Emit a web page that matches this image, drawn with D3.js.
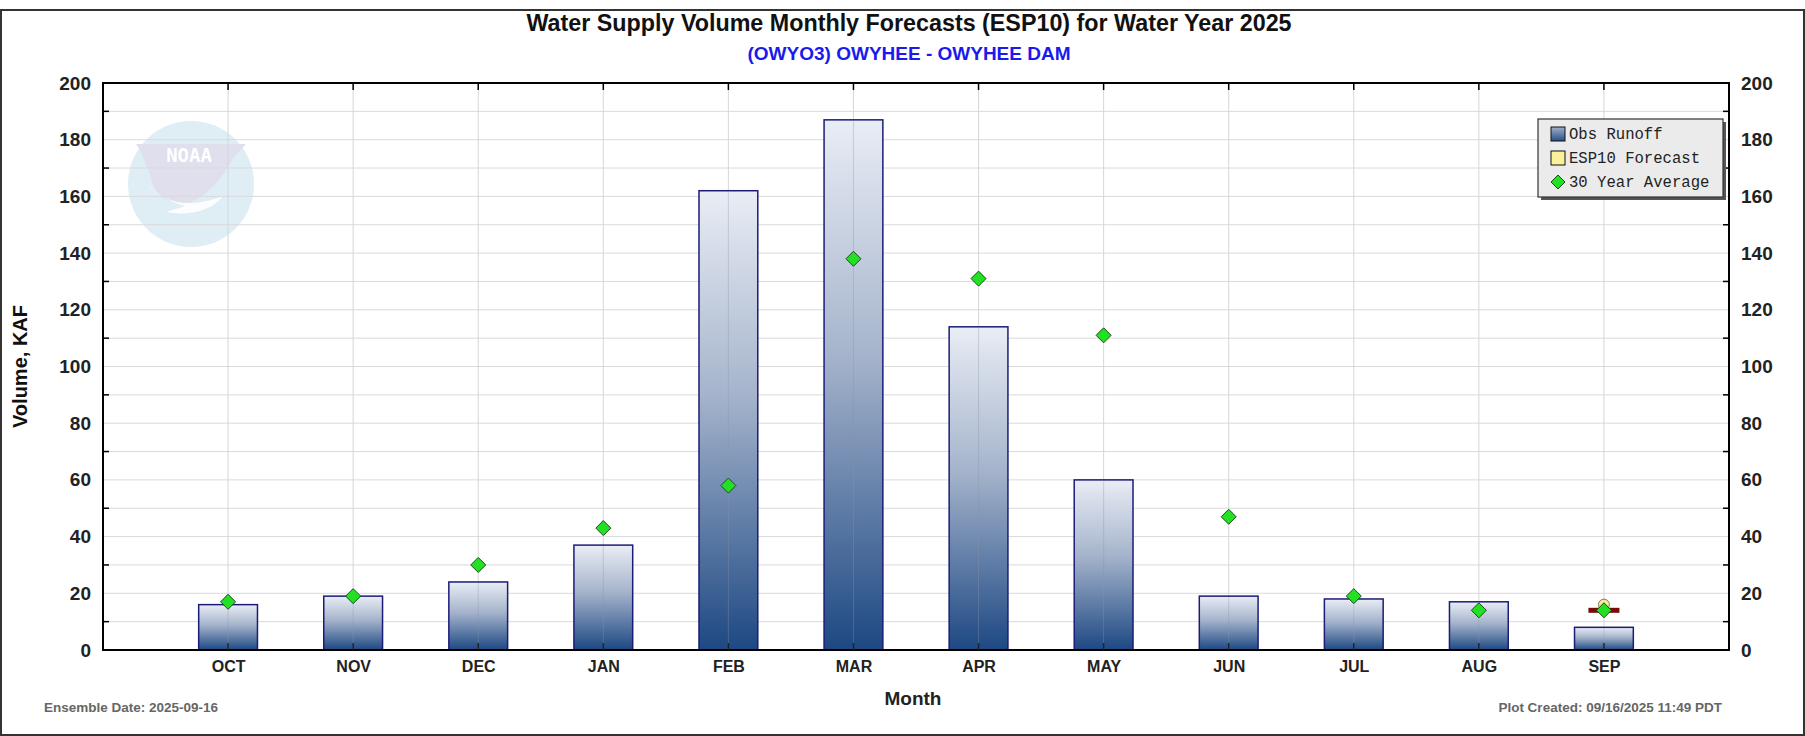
<!DOCTYPE html>
<html>
<head>
<meta charset="utf-8">
<script src="https://cdn.jsdelivr.net/npm/d3@7/dist/d3.min.js"></script>
<style>
  html, body { margin: 0; padding: 0; background: #fff; }
  svg { display: block; }
</style>
</head>
<body>
<script>
// Monthly volumes for the water year (KAF)
const months = ["OCT","NOV","DEC","JAN","FEB","MAR","APR","MAY","JUN","JUL","AUG","SEP"];
const obsRunoff = [16, 19, 24, 37, 162, 187, 114, 60, 19, 18, 17, 8];
const avg30yr = [17, 19, 30, 43, 58, 138, 131, 111, 47, 19, 14, 14];
// ESP10 forecast for the current month
const forecastMonth = ["SEP"];
const forecastValue = [16];
const forecastMedian = [14];
const yTicks = [0, 20, 40, 60, 80, 100, 120, 140, 160, 180, 200];
const yMinorTicks = [10, 30, 50, 70, 90, 110, 130, 150, 170, 190];

const W = 1805, H = 736;
const plot = { left: 103, right: 1729, top: 83, bottom: 650 };

const svg = d3.select("body").append("svg").attr("width", W).attr("height", H);
const defs = svg.append("defs");

const grad = defs.append("linearGradient").attr("id", "barFill")
  .attr("x1", 0).attr("y1", 0).attr("x2", 0).attr("y2", 1);
grad.append("stop").attr("offset", "0%").attr("stop-color", "#e9edf5");
grad.append("stop").attr("offset", "45%").attr("stop-color", "#a4b3cb");
grad.append("stop").attr("offset", "100%").attr("stop-color", "#1d4883");

const legGrad = defs.append("linearGradient").attr("id", "legFill")
  .attr("x1", 0).attr("y1", 0).attr("x2", 0).attr("y2", 1);
legGrad.append("stop").attr("offset", "0%").attr("stop-color", "#9fb0c9");
legGrad.append("stop").attr("offset", "100%").attr("stop-color", "#2a4f86");

// Outer frame
svg.append("rect").attr("x", 1).attr("y", 10).attr("width", W - 2).attr("height", H - 11)
  .attr("fill", "#fff").attr("stroke", "#333").attr("stroke-width", 2);

// Scales
const x = d3.scaleLinear().domain([0, months.length + 1]).range([plot.left, plot.right]);
const xPos = m => x(months.indexOf(m) + 1);
const y = d3.scaleLinear().domain([0, 200]).range([plot.bottom, plot.top]);
const slot = x(1) - x(0);
const barW = slot * 0.47;

// NOAA emblem watermark
const logo = svg.append("g").attr("transform", "translate(191,184)").attr("opacity", 0.9);
logo.append("circle").attr("r", 63).attr("fill", "#dcecf4");
logo.append("path")
  .attr("d", "M-55,-40 L55,-40 L42,-26 C30,-2 12,14 -2,19 C-12,22 -26,18 -34,8 C-40,0 -42,-20 -55,-40 Z")
  .attr("fill", "#dcdcec");
logo.append("path")
  .attr("d", "M-45,-2 C-30,20 0,25 32,12 C20,28 -5,32 -25,28 L-6,22 C-22,18 -36,10 -45,-2 Z")
  .attr("fill", "#ffffff").attr("opacity", 0.9);
logo.append("text").attr("x", -2).attr("y", -22).attr("text-anchor", "middle")
  .attr("font-family", "DejaVu Sans Mono, monospace").attr("font-weight", "bold")
  .attr("font-size", 19).attr("fill", "#ffffff").text("NOAA");

// Gridlines
const grid = svg.append("g");
grid.selectAll("line.hmin").data(yMinorTicks.concat(yTicks.slice(1, -1))).join("line")
  .attr("x1", plot.left).attr("x2", plot.right)
  .attr("y1", d => y(d)).attr("y2", d => y(d))
  .attr("stroke", "#dadada").attr("stroke-width", 1);
grid.selectAll("line.v").data(months).join("line")
  .attr("x1", d => xPos(d)).attr("x2", d => xPos(d))
  .attr("y1", plot.top).attr("y2", plot.bottom)
  .attr("stroke", "#d6d6dc").attr("stroke-width", 1);

// Observed runoff bars
svg.append("g").selectAll("rect").data(months).join("rect")
  .attr("x", d => xPos(d) - barW / 2)
  .attr("y", (d, i) => y(obsRunoff[i]))
  .attr("width", barW)
  .attr("height", (d, i) => y(0) - y(obsRunoff[i]))
  .attr("fill", "url(#barFill)")
  .attr("stroke", "#1c1c78").attr("stroke-width", 1.5);

// Vertical gridlines show faintly through bars
svg.append("g").selectAll("line").data(months).join("line")
  .attr("x1", d => xPos(d)).attr("x2", d => xPos(d))
  .attr("y1", (d, i) => y(obsRunoff[i]) + 1).attr("y2", plot.bottom)
  .attr("stroke", "#8b94a8").attr("stroke-opacity", 0.35).attr("stroke-width", 1);

// ESP10 forecast marker
const fc = svg.append("g");
forecastMonth.forEach((m, i) => {
  fc.append("circle").attr("cx", xPos(m)).attr("cy", y(forecastValue[i])).attr("r", 5.5)
    .attr("fill", "#f6e7a0").attr("stroke", "#8a7a50").attr("stroke-width", 1);
  fc.append("rect").attr("x", xPos(m) - 15.5).attr("y", y(forecastMedian[i]) - 2.5)
    .attr("width", 31).attr("height", 5).attr("fill", "#7a0a0a");
});

// 30 year average diamonds
const dS = 7.5;
svg.append("g").selectAll("path").data(months).join("path")
  .attr("d", (d, i) => {
    const cx = xPos(d), cy = y(avg30yr[i]);
    return `M${cx},${cy - dS} L${cx + dS},${cy} L${cx},${cy + dS} L${cx - dS},${cy} Z`;
  })
  .attr("fill", "#22e022").attr("stroke", "#1e4a1e").attr("stroke-width", 1);

// Axes
const font = "Liberation Sans, Arial, sans-serif";
const axisG = svg.append("g");
axisG.append("rect").attr("x", plot.left).attr("y", plot.top)
  .attr("width", plot.right - plot.left).attr("height", plot.bottom - plot.top)
  .attr("fill", "none").attr("stroke", "#000").attr("stroke-width", 2);

const leftAxis = d3.axisLeft(y).tickValues(yTicks).tickSize(0).tickPadding(12);
const la = axisG.append("g").attr("transform", `translate(${plot.left},0)`).call(leftAxis);
const rightAxis = d3.axisRight(y).tickValues(yTicks).tickSize(0).tickPadding(12);
const ra = axisG.append("g").attr("transform", `translate(${plot.right},0)`).call(rightAxis);
[la, ra].forEach(g => {
  g.select(".domain").remove();
  g.selectAll("text").attr("font-family", font).attr("font-weight", "bold")
    .attr("font-size", 19).attr("fill", "#222");
});
// inward minor ticks on both sides
axisG.selectAll("line.lt").data(yMinorTicks).join("line")
  .attr("x1", plot.left).attr("x2", plot.left + 6)
  .attr("y1", d => y(d)).attr("y2", d => y(d)).attr("stroke", "#000").attr("stroke-width", 1.5);
axisG.selectAll("line.rt").data(yMinorTicks).join("line").attr("class", "rt")
  .attr("x1", plot.right).attr("x2", plot.right - 6)
  .attr("y1", d => y(d)).attr("y2", d => y(d)).attr("stroke", "#000").attr("stroke-width", 1.5);

const bottomAxis = d3.axisBottom(x).tickValues(d3.range(1, months.length + 1))
  .tickFormat(d => months[d - 1]).tickSize(0).tickPadding(11);
const ba = axisG.append("g").attr("transform", `translate(0,${plot.bottom})`).call(bottomAxis);
ba.select(".domain").remove();
ba.selectAll("text").attr("font-family", font).attr("font-weight", "bold")
  .attr("font-size", 16).attr("fill", "#222");
// inward month ticks at top and bottom
axisG.selectAll("line.tt").data(months).join("line")
  .attr("x1", d => xPos(d)).attr("x2", d => xPos(d))
  .attr("y1", plot.top).attr("y2", plot.top + 7).attr("stroke", "#000").attr("stroke-width", 1.5);
axisG.selectAll("line.bt").data(months).join("line").attr("class", "bt")
  .attr("x1", d => xPos(d)).attr("x2", d => xPos(d))
  .attr("y1", plot.bottom).attr("y2", plot.bottom - 7).attr("stroke", "#222").attr("stroke-width", 1.5);

// Titles
svg.append("text").attr("x", 909).attr("y", 31).attr("text-anchor", "middle")
  .attr("font-family", font).attr("font-weight", "bold").attr("font-size", 23.3).attr("fill", "#111")
  .text("Water Supply Volume Monthly Forecasts (ESP10) for Water Year 2025");
svg.append("text").attr("x", 909).attr("y", 60).attr("text-anchor", "middle")
  .attr("font-family", font).attr("font-weight", "bold").attr("font-size", 19).attr("fill", "#1a1aee")
  .text("(OWYO3) OWYHEE - OWYHEE DAM");

svg.append("text").attr("transform", `translate(27,${(plot.top + plot.bottom) / 2}) rotate(-90)`)
  .attr("text-anchor", "middle").attr("font-family", font).attr("font-weight", "bold")
  .attr("font-size", 20).attr("fill", "#111").text("Volume, KAF");
svg.append("text").attr("x", 913).attr("y", 705).attr("text-anchor", "middle")
  .attr("font-family", font).attr("font-weight", "bold").attr("font-size", 19).attr("fill", "#222")
  .text("Month");

svg.append("text").attr("x", 44).attr("y", 712)
  .attr("font-family", font).attr("font-weight", "bold").attr("font-size", 13.5).attr("fill", "#666")
  .text("Ensemble Date: 2025-09-16");
svg.append("text").attr("x", 1722).attr("y", 712).attr("text-anchor", "end")
  .attr("font-family", font).attr("font-weight", "bold").attr("font-size", 13.5).attr("fill", "#666")
  .text("Plot Created: 09/16/2025 11:49 PDT");

// Legend
const leg = svg.append("g").attr("transform", "translate(1538,119)");
leg.append("rect").attr("x", 3).attr("y", 3).attr("width", 185).attr("height", 78).attr("fill", "#555");
leg.append("rect").attr("x", 0).attr("y", 0).attr("width", 185).attr("height", 78)
  .attr("fill", "#ebebeb").attr("stroke", "#333").attr("stroke-width", 1.2);
const legItems = ["Obs Runoff", "ESP10 Forecast", "30 Year Average"];
legItems.forEach((t, i) => {
  const cy = 15 + i * 24;
  if (i === 0) {
    leg.append("rect").attr("x", 13).attr("y", cy - 7).attr("width", 14).attr("height", 14)
      .attr("fill", "url(#legFill)").attr("stroke", "#111").attr("stroke-width", 1);
  } else if (i === 1) {
    leg.append("rect").attr("x", 13).attr("y", cy - 7).attr("width", 14).attr("height", 14)
      .attr("fill", "#fbf19a").attr("stroke", "#111").attr("stroke-width", 1);
  } else {
    leg.append("path").attr("d", `M13,${cy} L20,${cy - 7} L27,${cy} L20,${cy + 7} Z`)
      .attr("fill", "#22e022").attr("stroke", "#1e4a1e").attr("stroke-width", 1);
  }
  leg.append("text").attr("x", 31).attr("y", cy + 5)
    .attr("font-family", "Liberation Mono, DejaVu Sans Mono, monospace").attr("font-size", 15.6)
    .attr("fill", "#222").text(t);
});
</script>
</body>
</html>
